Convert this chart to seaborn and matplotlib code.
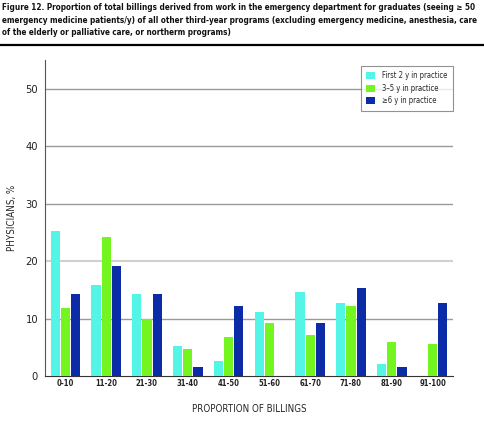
import pandas as pd
import matplotlib.pyplot as plt
import seaborn as sns
from matplotlib.lines import Line2D

# Data
categories = ['0-10', '11-20', '21-30', '31-40', '41-50', '51-60', '61-70', '71-80', '81-90', '91-100']
groups = ['First 2 y in practice', '3\u20135 y in practice', '\u22656 y in practice']
first_2y = [25.2, 15.8, 14.2, 5.2, 2.6, 11.2, 14.7, 12.7, 2.1, 0.0]
y_3_5 = [11.9, 24.2, 9.9, 4.7, 6.8, 9.2, 7.2, 12.1, 6.0, 5.6]
y_6_plus = [14.2, 19.1, 14.2, 1.5, 12.1, 0.0, 9.2, 15.4, 1.6, 12.7]
colors = ['#52F5E6', '#74F520', '#0B2CA6']

rows = []
for g, vals in zip(groups, [first_2y, y_3_5, y_6_plus]):
    for c, v in zip(categories, vals):
        rows.append({'billings': c, 'group': g, 'pct': v})
df = pd.DataFrame(rows)

sns.set_style('white')
plt.rcParams['font.family'] = ['DejaVu Sans']
plt.rcParams['font.stretch'] = 'condensed'

fig = plt.figure(figsize=(4.84, 4.28), dpi=100)
ax = fig.add_axes([45 / 484, 52 / 428, 408 / 484, 316 / 428])

sns.barplot(data=df, x='billings', y='pct', hue='group', palette=colors,
            order=categories, hue_order=groups, width=0.75, gap=0.08,
            saturation=1, linewidth=0, ax=ax, zorder=3)

ax.set_xlim(-0.5, 9.5)
ax.set_ylim(0, 55)
ax.set_yticks([0, 10, 20, 30, 40, 50])
for yv in [10, 30, 40, 50]:
    ax.axhline(yv, color='#9a9a9a', lw=1, zorder=1)
ax.axhline(20, color='#d0d0d0', lw=1.5, zorder=1)

ax.set_xticks(range(len(categories)))
ax.set_xticklabels(categories, fontsize=5.5, fontweight='bold', color='#222222')
ax.set_xticks([i + 0.5 for i in range(len(categories))], minor=True)
ax.tick_params(axis='x', which='major', length=0, pad=2)
ax.tick_params(axis='x', which='minor', length=3, color='#888888', direction='out')
ax.tick_params(axis='y', length=0, labelsize=8, pad=5, colors='#222222')

for s in ['top', 'right']:
    ax.spines[s].set_visible(False)
ax.spines['left'].set_color('#555555')
ax.spines['bottom'].set_color('#333333')

ax.set_xlabel('PROPORTION OF BILLINGS', fontsize=7, labelpad=12)
ax.set_ylabel('PHYSICIANS, %', fontsize=7, labelpad=6)

leg = ax.legend(loc='upper left', bbox_to_anchor=(361 / 484, 1 - 66 / 428),
                bbox_transform=fig.transFigure, fontsize=5.5, frameon=True,
                fancybox=False, edgecolor='#777777', handlelength=1.1,
                handleheight=1.1, borderpad=0.7, labelspacing=0.45,
                handletextpad=1.0, borderaxespad=0)
leg.get_frame().set_linewidth(0.8)

title = ('Figure 12. Proportion of total billings derived from work in the emergency department for graduates (seeing \u2265 50\n'
         'emergency medicine patients/y) of all other third-year programs (excluding emergency medicine, anesthesia, care\n'
         'of the elderly or palliative care, or northerm programs)')
fig.text(0.005, 0.992, title, ha='left', va='top', fontsize=5.9, fontweight='bold',
         linespacing=1.45, color='#111111')
fig.add_artist(Line2D([0, 1], [1 - 45 / 428, 1 - 45 / 428], color='black', lw=1.6,
                      transform=fig.transFigure))

fig.savefig('out.png', dpi=100)
